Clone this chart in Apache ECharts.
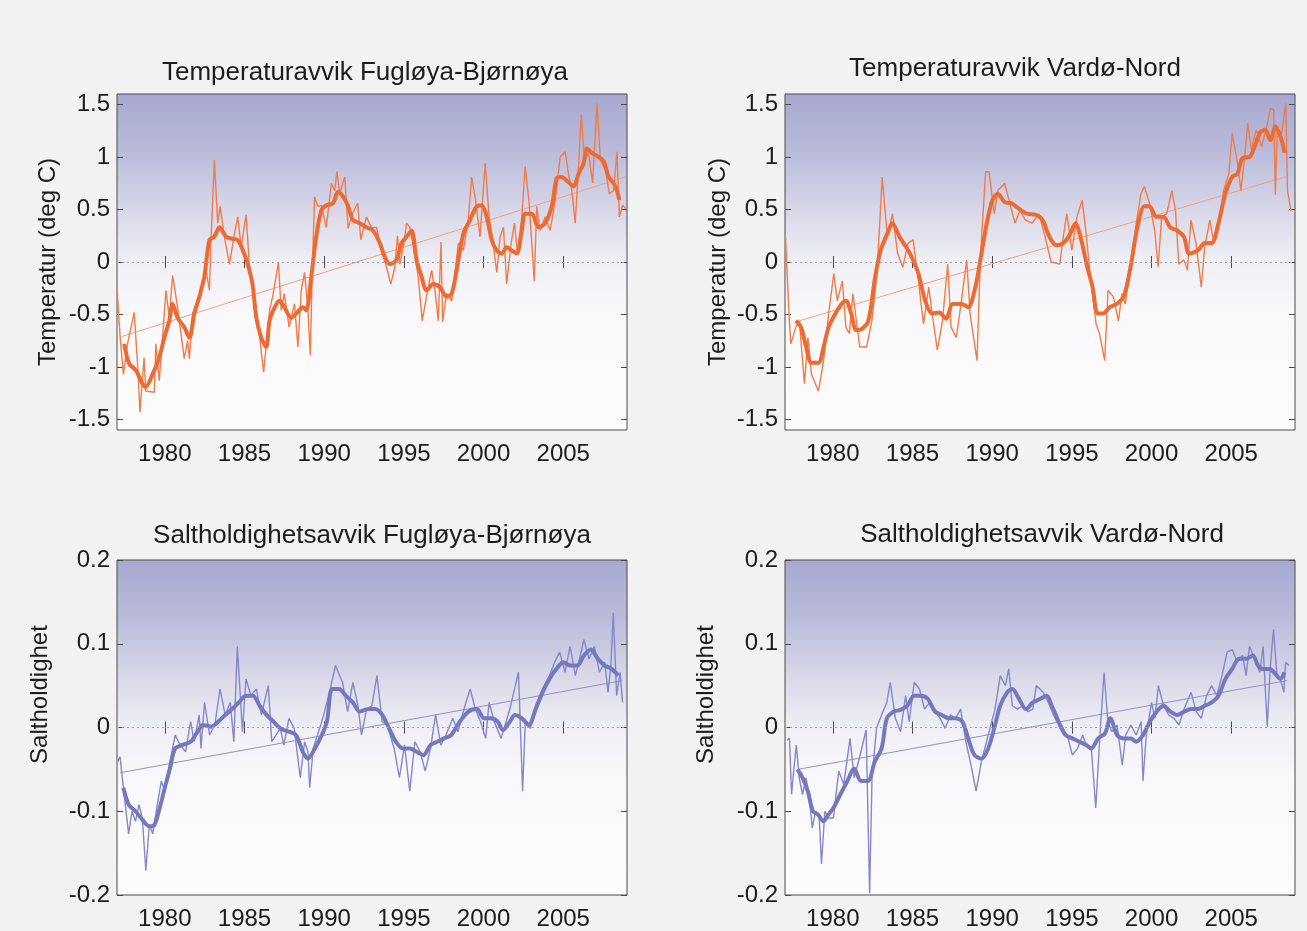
<!DOCTYPE html>
<html>
<head>
<meta charset="utf-8">
<script src="https://cdn.jsdelivr.net/npm/echarts@6/dist/echarts.min.js"></script>
<style>
html,body{margin:0;padding:0;background:#f3f3f4;}
#chart{width:1307px;height:931px;}
</style>
</head>
<body>
<div id="chart"></div>
<script>
// ---------- tick labels ----------
const yearTicks = [1980, 1985, 1990, 1995, 2000, 2005];
const tempTicks = [-1.5, -1, -0.5, 0, 0.5, 1, 1.5];
const salTicks = [-0.2, -0.1, 0, 0.1, 0.2];

// ---------- titles ----------
const titles = [
  'Temperaturavvik Fugløya-Bjørnøya',
  'Temperaturavvik Vardø-Nord',
  'Saltholdighetsavvik Fugløya-Bjørnøya',
  'Saltholdighetsavvik Vardø-Nord'
];

// ---------- Temperature Fugløya-Bjørnøya ----------
const tempFBRaw = [[1977.0,-0.25],[1977.2,-0.72],[1977.4,-1.07],[1977.66,-0.78],[1978.08,-0.48],[1978.3,-1.0],[1978.44,-1.43],[1978.7,-0.91],[1978.8,-1.23],[1979.34,-1.24],[1979.44,-0.78],[1979.65,-1.13],[1979.86,-0.72],[1980.07,-0.27],[1980.28,-0.53],[1980.49,-0.13],[1980.8,-0.43],[1981.22,-0.92],[1981.43,-0.75],[1981.54,-0.92],[1981.75,-0.49],[1982.27,-0.27],[1982.59,-0.08],[1982.8,-0.27],[1982.9,0.21],[1983.11,0.97],[1983.32,0.37],[1983.47,0.53],[1983.74,0.24],[1984.06,-0.02],[1984.37,0.27],[1984.58,0.43],[1984.79,0.14],[1985.1,0.45],[1985.3,-0.02],[1985.5,-0.18],[1985.9,-0.65],[1986.2,-1.05],[1986.57,-0.46],[1986.78,-0.32],[1987.13,0.0],[1987.3,-0.46],[1987.5,-0.3],[1987.8,-0.62],[1988.14,-0.4],[1988.35,-0.81],[1988.56,-0.27],[1988.77,-0.1],[1988.98,-0.46],[1989.13,-0.89],[1989.25,-0.08],[1989.4,0.62],[1989.6,0.53],[1989.82,0.54],[1990.13,0.33],[1990.45,0.75],[1990.66,0.68],[1990.8,0.86],[1990.97,0.65],[1991.29,0.81],[1991.5,0.32],[1991.77,0.46],[1992.1,0.56],[1992.3,0.21],[1992.65,0.43],[1992.96,0.33],[1993.28,0.33],[1993.6,0.11],[1993.91,-0.05],[1994.18,-0.21],[1994.43,-0.05],[1994.6,0.25],[1994.75,-0.02],[1994.96,0.14],[1995.17,0.37],[1995.38,0.33],[1995.6,0.14],[1995.9,-0.14],[1996.15,-0.56],[1996.42,-0.33],[1996.74,-0.08],[1996.95,-0.27],[1997.16,-0.56],[1997.33,0.19],[1997.43,-0.57],[1997.68,-0.3],[1998.0,-0.37],[1998.42,0.18],[1998.73,0.11],[1999.04,0.4],[1999.25,0.81],[1999.5,0.59],[1999.78,0.24],[2000.1,0.94],[2000.35,0.43],[2000.55,0.24],[2000.83,-0.1],[2001.04,0.24],[2001.25,0.33],[2001.45,-0.21],[2001.73,0.18],[2001.94,0.37],[2002.13,0.08],[2002.4,0.43],[2002.61,0.91],[2002.86,0.56],[2003.18,-0.18],[2003.34,0.53],[2003.55,0.3],[2003.87,0.43],[2004.18,0.3],[2004.5,0.59],[2004.81,1.0],[2005.12,1.05],[2005.33,0.84],[2005.54,0.68],[2005.75,0.37],[2005.96,0.91],[2006.13,1.4],[2006.34,0.97],[2006.59,1.04],[2006.84,0.75],[2007.12,1.51],[2007.33,0.97],[2007.64,0.88],[2007.89,0.65],[2008.16,0.68],[2008.37,1.05],[2008.52,0.43],[2008.73,0.54],[2008.9,0.51]];
const tempFBSmooth = [[1977.45,-0.78],[1977.77,-0.97],[1978.18,-1.03],[1978.6,-1.16],[1978.8,-1.19],[1979.23,-1.07],[1979.65,-0.91],[1979.97,-0.72],[1980.28,-0.56],[1980.49,-0.4],[1980.8,-0.53],[1981.22,-0.62],[1981.54,-0.72],[1981.85,-0.49],[1982.17,-0.33],[1982.48,-0.14],[1982.8,0.21],[1983.1,0.24],[1983.43,0.33],[1983.85,0.24],[1984.27,0.22],[1984.58,0.21],[1984.9,0.11],[1985.2,-0.02],[1985.5,-0.21],[1985.74,-0.53],[1986.05,-0.72],[1986.36,-0.81],[1986.57,-0.56],[1986.9,-0.43],[1987.2,-0.37],[1987.5,-0.43],[1987.93,-0.53],[1988.25,-0.49],[1988.67,-0.43],[1988.87,-0.46],[1989.19,-0.14],[1989.5,0.24],[1989.82,0.49],[1990.13,0.54],[1990.55,0.56],[1990.87,0.67],[1991.2,0.62],[1991.5,0.53],[1991.8,0.4],[1992.23,0.37],[1992.65,0.33],[1993.07,0.3],[1993.49,0.18],[1993.8,0.05],[1994.12,-0.02],[1994.54,0.02],[1994.85,0.18],[1995.17,0.24],[1995.48,0.3],[1995.8,0.02],[1996.11,-0.14],[1996.42,-0.27],[1996.84,-0.21],[1997.26,-0.24],[1997.68,-0.33],[1998.0,-0.3],[1998.31,-0.08],[1998.73,0.27],[1999.15,0.4],[1999.57,0.53],[1999.88,0.54],[2000.2,0.43],[2000.51,0.21],[2000.83,0.11],[2001.14,0.08],[2001.45,0.14],[2001.77,0.11],[2002.08,0.08],[2002.4,0.3],[2002.61,0.46],[2003.03,0.46],[2003.45,0.33],[2003.87,0.37],[2004.28,0.53],[2004.6,0.8],[2004.9,0.81],[2005.33,0.76],[2005.65,0.72],[2005.96,0.84],[2006.28,0.94],[2006.49,1.08],[2006.8,1.04],[2007.22,1.0],[2007.53,0.96],[2007.85,0.81],[2008.16,0.75],[2008.37,0.68],[2008.52,0.59]];
const tempFBTrend = [[1977.3,-0.71],[2008.9,0.81]];

// ---------- Temperature Vardø-Nord ----------
const tempVNRaw = [[1977.03,0.24],[1977.25,-0.49],[1977.36,-0.78],[1977.68,-0.62],[1977.9,-0.56],[1978.22,-1.16],[1978.44,-0.72],[1978.66,-1.07],[1979.1,-1.23],[1979.42,-0.94],[1979.74,-0.49],[1980.06,-0.11],[1980.28,-0.37],[1980.6,-0.18],[1980.82,-0.62],[1981.04,-0.68],[1981.26,-0.3],[1981.69,-0.81],[1982.12,-0.81],[1982.45,-0.56],[1982.77,-0.11],[1983.1,0.81],[1983.42,0.24],[1983.74,0.46],[1984.07,0.08],[1984.39,-0.05],[1984.72,0.18],[1985.04,0.21],[1985.37,-0.18],[1985.69,-0.59],[1986.02,-0.24],[1986.23,-0.49],[1986.56,-0.84],[1986.88,-0.56],[1987.21,-0.02],[1987.42,-0.62],[1987.75,-0.72],[1988.07,-0.37],[1988.4,0.02],[1988.61,-0.49],[1989.05,-0.94],[1989.26,0.05],[1989.59,0.86],[1989.8,0.86],[1990.13,0.46],[1990.35,0.68],[1990.78,0.75],[1991.1,0.56],[1991.43,0.37],[1991.75,0.49],[1992.08,0.4],[1992.51,0.37],[1992.94,0.46],[1993.27,0.27],[1993.7,0.0],[1994.24,-0.02],[1994.46,0.24],[1994.68,0.46],[1995.0,0.11],[1995.32,0.43],[1995.65,0.59],[1995.87,0.3],[1996.19,-0.18],[1996.52,-0.59],[1996.73,-0.68],[1997.06,-0.94],[1997.27,-0.27],[1997.6,-0.33],[1997.92,-0.56],[1998.14,-0.3],[1998.35,-0.4],[1998.68,-0.05],[1999.0,0.33],[1999.33,0.65],[1999.55,0.72],[1999.87,0.56],[2000.2,0.3],[2000.41,-0.05],[2000.63,0.43],[2000.95,0.46],[2001.28,0.68],[2001.5,0.49],[2001.71,-0.02],[2002.03,0.02],[2002.25,-0.08],[2002.47,0.4],[2002.79,0.18],[2003.12,-0.24],[2003.33,0.14],[2003.66,0.4],[2003.87,0.21],[2004.2,0.37],[2004.52,0.68],[2004.85,0.84],[2005.06,1.23],[2005.39,0.94],[2005.61,0.68],[2005.82,0.97],[2006.04,1.32],[2006.26,1.07],[2006.58,1.26],[2006.9,1.1],[2007.23,1.29],[2007.45,1.46],[2007.66,1.45],[2007.77,0.64],[2007.88,1.26],[2008.1,1.16],[2008.42,1.51],[2008.53,0.68],[2008.74,0.49]];
const tempVNSmooth = [[1977.68,-0.56],[1978.0,-0.62],[1978.33,-0.81],[1978.66,-0.96],[1979.1,-0.96],[1979.42,-0.81],[1979.74,-0.62],[1980.17,-0.49],[1980.5,-0.41],[1980.82,-0.37],[1981.15,-0.49],[1981.47,-0.65],[1981.8,-0.64],[1982.23,-0.56],[1982.66,-0.14],[1983.0,0.11],[1983.42,0.27],[1983.74,0.37],[1984.18,0.24],[1984.61,0.14],[1984.94,0.05],[1985.37,-0.11],[1985.8,-0.37],[1986.23,-0.49],[1986.67,-0.48],[1987.1,-0.54],[1987.53,-0.4],[1988.07,-0.4],[1988.5,-0.43],[1988.94,-0.24],[1989.26,0.02],[1989.7,0.4],[1990.02,0.59],[1990.35,0.65],[1990.78,0.57],[1991.21,0.56],[1991.65,0.51],[1992.19,0.46],[1992.73,0.45],[1993.16,0.4],[1993.59,0.24],[1994.03,0.16],[1994.46,0.18],[1994.9,0.27],[1995.22,0.37],[1995.54,0.24],[1995.97,-0.05],[1996.3,-0.24],[1996.62,-0.49],[1996.95,-0.49],[1997.38,-0.43],[1997.81,-0.4],[1998.25,-0.33],[1998.68,-0.05],[1999.11,0.33],[1999.55,0.53],[1999.87,0.53],[2000.3,0.43],[2000.74,0.43],[2001.17,0.33],[2001.6,0.3],[2002.03,0.24],[2002.36,0.08],[2002.9,0.11],[2003.33,0.18],[2003.77,0.18],[2004.2,0.37],[2004.63,0.65],[2005.06,0.81],[2005.39,0.84],[2005.71,0.99],[2006.15,1.0],[2006.47,1.1],[2006.8,1.23],[2007.12,1.26],[2007.45,1.16],[2007.77,1.29],[2008.1,1.19],[2008.35,1.04]];
const tempVNTrend = [[1977.9,-0.56],[2008.4,0.81]];

// ---------- Salinity Fugløya-Bjørnøya ----------
const salFBRaw = [[1977.03,-0.041],[1977.19,-0.035],[1977.4,-0.072],[1977.73,-0.127],[1977.94,-0.1],[1978.16,-0.112],[1978.38,-0.092],[1978.59,-0.108],[1978.81,-0.171],[1979.03,-0.116],[1979.24,-0.127],[1979.46,-0.1],[1979.78,-0.064],[1980.0,-0.076],[1980.32,-0.041],[1980.65,-0.009],[1980.97,-0.021],[1981.3,-0.029],[1981.62,0.007],[1981.84,-0.017],[1982.16,0.015],[1982.27,-0.025],[1982.49,0.03],[1982.81,-0.009],[1983.14,0.003],[1983.46,0.046],[1983.79,0.015],[1984.11,0.03],[1984.33,-0.017],[1984.55,0.097],[1984.87,-0.005],[1985.09,0.058],[1985.41,0.038],[1985.74,0.046],[1986.06,0.015],[1986.49,0.05],[1986.71,-0.017],[1987.25,-0.001],[1987.47,-0.021],[1987.79,0.011],[1988.12,-0.001],[1988.5,-0.06],[1988.77,-0.017],[1988.98,-0.029],[1989.09,-0.072],[1989.31,-0.025],[1989.85,0.007],[1990.28,0.038],[1990.71,0.074],[1991.15,0.054],[1991.47,0.019],[1991.8,0.054],[1992.12,0.026],[1992.34,-0.009],[1992.66,0.022],[1992.99,0.026],[1993.31,0.062],[1993.64,0.007],[1993.96,0.003],[1994.39,-0.025],[1994.72,-0.06],[1995.04,-0.021],[1995.37,-0.076],[1995.69,-0.017],[1996.02,-0.029],[1996.34,-0.052],[1996.67,-0.025],[1996.99,0.015],[1997.32,-0.021],[1997.64,-0.009],[1998.07,0.011],[1998.4,-0.005],[1998.83,0.026],[1999.16,0.046],[1999.48,0.022],[1999.81,0.007],[2000.13,-0.013],[2000.35,0.03],[2000.67,0.007],[2001.1,-0.013],[2001.65,0.022],[2002.19,0.066],[2002.45,-0.076],[2002.62,0.007],[2002.94,-0.001],[2003.27,0.026],[2003.7,0.046],[2004.13,0.062],[2004.46,0.078],[2004.78,0.09],[2005.11,0.066],[2005.43,0.097],[2005.76,0.062],[2005.97,0.078],[2006.3,0.105],[2006.62,0.082],[2006.95,0.097],[2007.27,0.066],[2007.6,0.078],[2007.81,0.042],[2007.99,0.074],[2008.14,0.137],[2008.35,0.038],[2008.57,0.066],[2008.72,0.03]];
const salFBSmooth = [[1977.4,-0.072],[1977.73,-0.092],[1978.16,-0.1],[1978.59,-0.11],[1979.03,-0.118],[1979.35,-0.116],[1979.68,-0.096],[1980.0,-0.072],[1980.32,-0.049],[1980.65,-0.025],[1981.08,-0.021],[1981.62,-0.017],[1982.06,-0.005],[1982.38,0.003],[1982.92,0.001],[1983.35,0.007],[1983.79,0.015],[1984.22,0.022],[1984.65,0.03],[1985.09,0.038],[1985.52,0.038],[1985.95,0.026],[1986.39,0.015],[1986.82,0.007],[1987.25,-0.001],[1987.79,-0.005],[1988.23,-0.009],[1988.66,-0.029],[1988.98,-0.037],[1989.42,-0.025],[1989.85,-0.009],[1990.17,0.007],[1990.5,0.046],[1990.93,0.046],[1991.36,0.038],[1991.8,0.03],[1992.23,0.019],[1992.77,0.022],[1993.2,0.022],[1993.64,0.015],[1994.07,-0.001],[1994.5,-0.017],[1994.94,-0.025],[1995.37,-0.025],[1995.8,-0.029],[1996.23,-0.033],[1996.67,-0.021],[1997.1,-0.017],[1997.53,-0.013],[1997.97,-0.009],[1998.51,0.007],[1999.05,0.019],[1999.59,0.022],[2000.02,0.011],[2000.45,0.011],[2000.89,0.007],[2001.21,-0.003],[2001.65,0.007],[2001.97,0.015],[2002.4,0.011],[2002.84,0.003],[2003.27,0.022],[2003.7,0.042],[2004.13,0.058],[2004.57,0.07],[2005.0,0.078],[2005.43,0.074],[2005.87,0.074],[2006.3,0.086],[2006.73,0.093],[2007.17,0.082],[2007.6,0.074],[2008.03,0.07],[2008.46,0.062]];
const salFBTrend = [[1977.2,-0.054],[2008.7,0.056]];

// ---------- Salinity Vardø-Nord ----------
const salVNRaw = [[1977.13,-0.015],[1977.28,-0.013],[1977.41,-0.08],[1977.56,-0.049],[1977.71,-0.021],[1977.89,-0.06],[1978.1,-0.08],[1978.32,-0.06],[1978.53,-0.084],[1978.71,-0.12],[1978.92,-0.1],[1979.14,-0.104],[1979.29,-0.163],[1979.5,-0.1],[1979.72,-0.108],[1980.04,-0.108],[1980.37,-0.052],[1980.69,-0.068],[1981.08,-0.013],[1981.34,-0.06],[1981.66,-0.037],[1982.09,-0.003],[1982.31,-0.198],[1982.46,-0.06],[1982.74,-0.001],[1983.06,0.015],[1983.39,0.03],[1983.6,0.054],[1983.93,0.011],[1984.25,-0.005],[1984.57,0.038],[1984.79,0.007],[1985.11,0.054],[1985.44,0.046],[1985.76,0.022],[1986.08,0.03],[1986.41,0.019],[1986.73,0.011],[1987.05,-0.001],[1987.38,0.015],[1987.7,0.011],[1988.02,0.022],[1988.35,-0.017],[1988.67,-0.045],[1988.99,-0.076],[1989.32,-0.041],[1989.75,-0.009],[1990.18,0.022],[1990.5,0.062],[1990.83,0.05],[1991.04,0.07],[1991.26,0.026],[1991.58,0.022],[1991.91,0.026],[1992.23,0.019],[1992.55,0.022],[1992.77,0.05],[1993.2,0.042],[1993.52,0.03],[1993.85,0.015],[1994.28,-0.001],[1994.71,-0.009],[1995.03,-0.033],[1995.36,-0.025],[1995.68,-0.009],[1995.9,-0.021],[1996.22,-0.025],[1996.5,-0.096],[1996.76,-0.009],[1997.02,0.066],[1997.26,0.007],[1997.51,-0.005],[1997.84,0.003],[1998.16,-0.045],[1998.38,-0.009],[1998.7,0.003],[1999.03,-0.009],[1999.35,0.007],[1999.46,-0.064],[1999.67,-0.009],[2000.0,0.03],[2000.21,0.011],[2000.43,0.05],[2000.75,0.026],[2001.07,0.015],[2001.4,0.011],[2001.72,0.003],[2002.04,0.022],[2002.48,0.042],[2002.8,0.019],[2003.12,0.011],[2003.45,0.038],[2003.77,0.05],[2004.09,0.038],[2004.42,0.062],[2004.74,0.09],[2005.06,0.093],[2005.39,0.078],[2005.71,0.086],[2005.93,0.062],[2006.14,0.097],[2006.47,0.082],[2006.79,0.066],[2007.0,0.097],[2007.26,0.001],[2007.44,0.07],[2007.65,0.117],[2007.87,0.062],[2008.08,0.058],[2008.3,0.042],[2008.41,0.078],[2008.62,0.074]];
const salVNSmooth = [[1977.78,-0.05],[1978.1,-0.06],[1978.43,-0.076],[1978.75,-0.1],[1979.07,-0.104],[1979.4,-0.112],[1979.72,-0.104],[1980.04,-0.096],[1980.47,-0.08],[1980.91,-0.064],[1981.34,-0.049],[1981.77,-0.064],[1982.2,-0.064],[1982.63,-0.041],[1983.06,-0.025],[1983.39,0.011],[1983.82,0.019],[1984.25,0.021],[1984.68,0.026],[1985.11,0.038],[1985.54,0.038],[1985.97,0.034],[1986.41,0.019],[1986.84,0.015],[1987.27,0.011],[1987.7,0.011],[1988.13,0.007],[1988.56,-0.017],[1988.89,-0.033],[1989.32,-0.037],[1989.75,-0.025],[1990.18,0.003],[1990.5,0.026],[1990.94,0.042],[1991.26,0.046],[1991.69,0.034],[1992.12,0.022],[1992.55,0.03],[1992.99,0.034],[1993.42,0.038],[1993.74,0.026],[1994.17,0.007],[1994.6,-0.009],[1995.03,-0.013],[1995.47,-0.017],[1995.9,-0.021],[1996.22,-0.025],[1996.65,-0.013],[1997.08,-0.007],[1997.41,0.011],[1997.84,-0.009],[1998.27,-0.013],[1998.7,-0.013],[1999.03,-0.017],[1999.46,-0.009],[1999.89,0.007],[2000.32,0.019],[2000.75,0.026],[2001.18,0.019],[2001.61,0.015],[2002.04,0.019],[2002.48,0.022],[2002.91,0.022],[2003.34,0.026],[2003.77,0.03],[2004.2,0.038],[2004.63,0.058],[2005.06,0.07],[2005.49,0.082],[2005.93,0.082],[2006.36,0.086],[2006.68,0.074],[2007.0,0.07],[2007.44,0.07],[2007.76,0.064],[2008.08,0.058],[2008.34,0.066]];
const salVNTrend = [[1977.8,-0.05],[2008.5,0.056]];

// ---------- layout ----------
const grids = [
  {left:117, top:94, width:510, height:336},
  {left:785, top:94, width:510, height:336},
  {left:117, top:560, width:510, height:337},
  {left:785, top:560, width:510, height:337}
];
const titlePos = [[365,73],[1015,69],[372,536],[1042,535]];
const yNames = ['Temperatur (deg C)','Temperatur (deg C)','Saltholdighet','Saltholdighet'];
const nameGaps = [57, 55, 65, 67];
const namePad = [0, 0, 66, 66];
const ranges = [[-1.6,1.6],[-1.6,1.6],[-0.2,0.2],[-0.2,0.2]];
const tickSets = [tempTicks, tempTicks, salTicks, salTicks];
const raws = [tempFBRaw, tempVNRaw, salFBRaw, salVNRaw];
const smooths = [tempFBSmooth, tempVNSmooth, salFBSmooth, salVNSmooth];
const trends = [tempFBTrend, tempVNTrend, salFBTrend, salVNTrend];

const orange = {raw:'#f07c48', smooth:'#ee6a33', trend:'#f3a27e'};
const blue = {raw:'#8587c8', smooth:'#7678be', trend:'#9394b9'};
const palettes = [orange, orange, blue, blue];

const FONT = 'Liberation Sans, Arial, Helvetica, sans-serif';
const TXT = '#1c1c1c';
const AX = '#4a4a4a';

function bg() {
  return {type:'linear', x:0, y:0, x2:0, y2:1, colorStops:[
    {offset:0, color:'#a6a8d0'},
    {offset:0.18, color:'#bbbcdb'},
    {offset:0.36, color:'#dadaea'},
    {offset:0.5, color:'#efeff5'},
    {offset:0.65, color:'#f9f9fb'},
    {offset:1, color:'#fcfcfc'}
  ]};
}
function fmtNum(v) {
  const r = Math.round(v * 10) / 10;
  return (r === 0 ? 0 : r).toString();
}
function fmtYear(v) {
  return String(Math.round(v));
}

const option = {
  backgroundColor: '#f2f2f3',
  animation: false,
  title: titles.map((t, i) => ({
    text: t, left: titlePos[i][0], top: titlePos[i][1],
    textAlign: 'center', textVerticalAlign: 'middle', padding: 0,
    textStyle: {fontSize: 26, fontWeight: 'normal', color: TXT, fontFamily: FONT}
  })),
  grid: grids.map(g => Object.assign({
    show: true, borderColor: AX, borderWidth: 1, backgroundColor: bg(), containLabel: false
  }, g)),
  xAxis: [],
  yAxis: [],
  series: []
};

for (let i = 0; i < 4; i++) {
  option.xAxis.push({
    gridIndex: i, type: 'value', min: 1977, max: 2009, position: 'bottom',
    axisLine: {show: false}, splitLine: {show: false},
    axisTick: {show: true, inside: true, length: 6, customValues: yearTicks, lineStyle: {color: AX}},
    axisLabel: {show: true, customValues: yearTicks, fontSize: 24, color: TXT, fontFamily: FONT, margin: 12, formatter: fmtYear}
  });
  option.xAxis.push({
    gridIndex: i, type: 'value', min: 1977, max: 2009, position: 'top',
    axisLine: {show: false}, splitLine: {show: false},
    axisTick: {show: true, inside: true, length: 6, customValues: yearTicks, lineStyle: {color: AX}},
    axisLabel: {show: false}
  });
  option.yAxis.push({
    gridIndex: i, type: 'value', min: ranges[i][0], max: ranges[i][1], position: 'left',
    axisLine: {show: false}, splitLine: {show: false},
    axisTick: {show: true, inside: true, length: 6, customValues: tickSets[i], lineStyle: {color: AX}},
    axisLabel: {show: true, customValues: tickSets[i], fontSize: 24, color: TXT, fontFamily: FONT, margin: 7, formatter: fmtNum},
    name: yNames[i], nameLocation: 'middle', nameGap: nameGaps[i],
    nameTextStyle: {fontSize: 24, color: TXT, fontFamily: FONT, padding: [0, 0, 0, namePad[i]]}
  });
  option.yAxis.push({
    gridIndex: i, type: 'value', min: ranges[i][0], max: ranges[i][1], position: 'right',
    axisLine: {show: false}, splitLine: {show: false},
    axisTick: {show: true, inside: true, length: 6, customValues: tickSets[i], lineStyle: {color: AX}},
    axisLabel: {show: false}
  });
  const p = palettes[i];
  option.series.push({
    type: 'line', xAxisIndex: 2 * i, yAxisIndex: 2 * i, data: trends[i],
    showSymbol: false, symbol: 'none', silent: true, z: 2,
    lineStyle: {color: p.trend, width: 1},
    markLine: {
      silent: true, symbol: 'none', label: {show: false},
      lineStyle: {color: '#a0a0a0', width: 1, type: [2, 3]},
      data: [{yAxis: 0}]
    }
  });
  option.series.push({
    type: 'line', xAxisIndex: 2 * i, yAxisIndex: 2 * i, data: raws[i],
    showSymbol: false, symbol: 'none', silent: true, z: 3,
    lineStyle: {color: p.raw, width: 1.4}
  });
  option.series.push({
    type: 'line', xAxisIndex: 2 * i, yAxisIndex: 2 * i, data: smooths[i],
    showSymbol: false, symbol: 'none', silent: true, z: 4, smooth: 0.3,
    lineStyle: {color: p.smooth, width: 4}
  });
}

const chart = echarts.init(document.getElementById('chart'), null, {renderer: 'canvas'});
chart.setOption(option);
</script>
</body>
</html>
